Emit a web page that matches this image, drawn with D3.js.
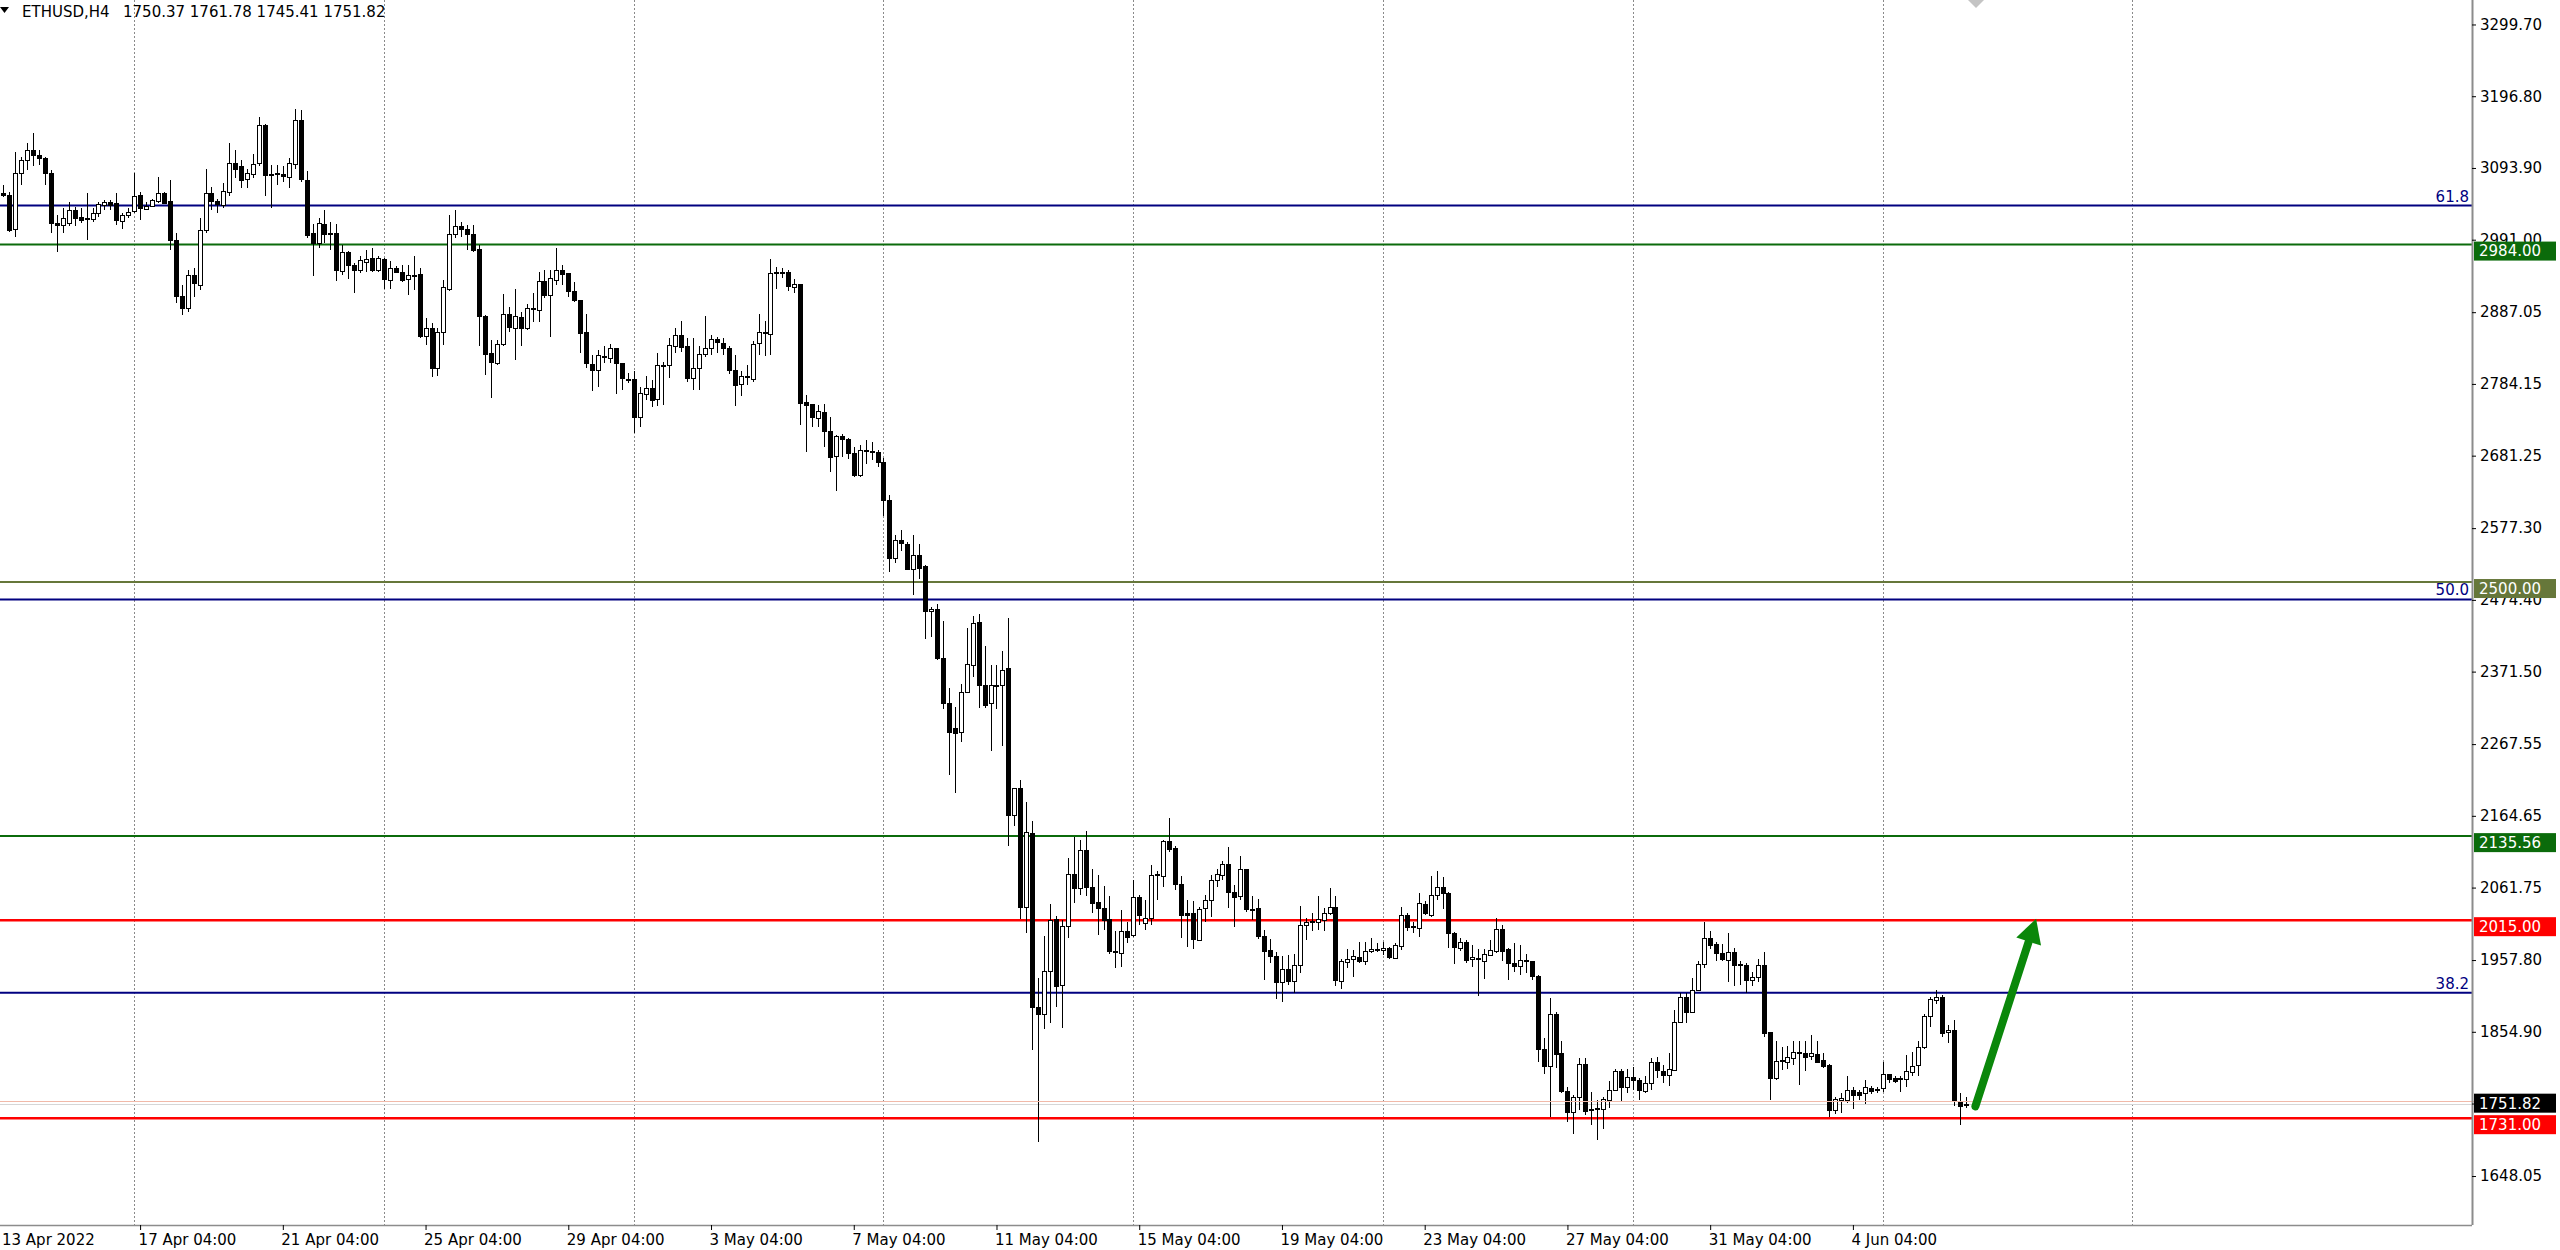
<!DOCTYPE html>
<html><head><meta charset="utf-8">
<script src="https://cdn.jsdelivr.net/npm/d3@7"></script>
<style>html,body{margin:0;padding:0;background:#fff;}svg{display:block;font-family:"DejaVu Sans",sans-serif;}</style>
</head><body><svg id="chart" width="2560" height="1250"></svg>
<script>
// ---------------- DATA ----------------
const symbol = "ETHUSD,H4";
const lastOHLC = [1750.37, 1761.78, 1745.41, 1751.82];
const startTime = Date.UTC(2022, 3, 13, 8); // first visible H4 bar
const barHours = 4;

const opens = [
3058,3055,3005,3086,3105,3119,3112,3108,3086,3015,
3012,3014,3033,3023,3021.6,3021,3029,3040,3045,3043,
3018,3026,3033,3055,3036,3039,3046,3058,3046,2990,
2910,2893,2940,2926,3005,3058,3046,3041,3060,3101,
3097,3077,3085,3100,3155,3085,3084,3085,3081,3100,
3162,3077,3000,2986,3014,3000,3000,2947,2973,2955,
2947,2960,2965,2948,2963,2934,2950,2945,2934,2940,
2942,2854,2865,2807,2858,2920,2999,3010,3006,2999,
2977,2881,2828,2814,2841,2884,2864,2880,2865,2892,
2891,2932,2912,2933,2948,2943,2917,2905,2858,2813,
2805,2824,2821,2835,2814,2791,2791,2736,2769,2779,
2762,2810,2812,2839,2855,2839,2793,2807,2826,2835,
2848,2843,2836,2804,2783,2794,2792,2842,2859,2856,
2944,2942,2944,2924,2928,2758,2755,2736,2744,2717,
2680,2709,2705,2685,2654,2689,2688,2686,2672,2618,
2535,2560,2555,2519,2539,2523,2459,2461,2391,2326,
2291,2285,2342,2381,2442,2352,2326,2352,2352,2376,
2165,2204,2034,2140,1890,1880,1942,2017,1922,2006,
2081,2061,2115,2062,2041,2033,2016,1971,1968,2000,
1994,2048,2011,2018,2080,2078,2129,2118,2067,2025,
2025,1987,2032,2044,2072,2080,2096,2056,2049,2088,
2031,2032,1992,1972,1964,1927,1945,1928,1950,2008,
2012,2012,2015,2025,2034,1929,1956,1959,1962,1957,
1971,1974,1972,1975,1962,1979,2023,2007,2003,2038,
2022,2050,2063,2054,1996,1976,1984,1959,1961,1956,
1965,1971,2002,1973,1954,1949,1958,1956,1935,1830,
1806,1880,1824,1770,1740,1761,1809,1742,1743,1744,
1758,1772,1799,1776,1790,1786,1771,1781,1811,1799,
1793,1800,1869,1905,1884,1915,1952,1989,1981,1968,
1959,1970,1952,1951,1930,1934,1951,1854,1788,1812,
1812,1818,1826,1825,1820,1823,1814,1807,1742,1757,
1756,1771,1768,1767,1775,1773,1774,1794,1789,1786,
1787,1797,1807,1833,1877,1901,1905,1854,1857,1755,
1750.37];

const highs = [
3069,3060,3117,3110,3129,3144,3120,3110,3091,3026,
3036,3045,3038,3036,3058,3036,3045,3048,3048,3058,
3029,3036,3086,3060,3045,3050,3081,3060,3077,3000,
2926,2948,2950,3022,3093,3067,3050,3072,3130,3120,
3105,3092,3114,3167,3157,3098,3098,3096,3108,3178,
3177,3089,3014,3022,3033,3017,3014,2983,2975,2958,
2968,2976,2979,2967,2965,2960,2953,2955,2955,2967,
2950,2878,2871,2865,2933,3026,3034,3017,3012,3012,
2983,2883,2847,2847,2913,2895,2920,2887,2899,2915,
2945,2948,2948,2979,2955,2943,2931,2905,2885,2826,
2833,2838,2841,2835,2814,2800,2802,2780,2795,2790,
2828,2815,2850,2864,2875,2850,2850,2838,2881,2854,
2852,2850,2838,2826,2802,2811,2845,2885,2874,2964,
2952,2950,2948,2934,2928,2768,2756,2754,2756,2737,
2711,2713,2706,2694,2697,2704,2701,2689,2678,2625,
2568,2575,2558,2568,2555,2525,2464,2468,2444,2348,
2321,2354,2434,2451,2454,2408,2381,2381,2401,2448,
2204,2216,2184,2157,1932,1992,2038,2021,2015,2104,
2135,2130,2143,2089,2080,2064,2049,1999,2030,2013,
2073,2051,2044,2094,2086,2130,2161,2121,2078,2044,
2042,2034,2051,2080,2089,2100,2120,2066,2107,2089,
2049,2046,2001,1988,1970,1963,1965,1967,2035,2018,
2025,2049,2032,2061,2049,1959,1973,1972,1984,1984,
1989,1982,1984,1977,1982,2034,2025,2013,2054,2042,
2078,2086,2077,2056,1998,1989,1987,1979,1973,1973,
1987,2018,2008,1975,1982,1979,1967,1957,1936,1846,
1903,1884,1841,1776,1764,1818,1817,1768,1757,1762,
1785,1801,1801,1801,1805,1788,1791,1817,1819,1807,
1824,1886,1910,1910,1932,1956,2013,2000,1984,1981,
1996,1975,1956,1954,1941,1960,1970,1854,1841,1833,
1834,1841,1841,1841,1850,1841,1825,1809,1761,1767,
1792,1776,1771,1786,1777,1776,1812,1795,1791,1791,
1822,1826,1841,1880,1905,1915,1908,1865,1872,1767,
1761.78];

const lows = [
3052,3002,2995,3069,3091,3096,3098,3069,3000,2974,
3000,3010,3010,3015,2991,3017,3024,3034,3034,3012,
3007,3022,3029,3019,3034,3038,3043,3043,2976,2900,
2883,2888,2909,2919,3000,3034,3029,3036,3053,3079,
3065,3065,3079,3096,3053,3036,3069,3074,3065,3093,
3074,2993,2939,2979,2986,2976,2932,2940,2934,2915,
2943,2945,2945,2944,2920,2920,2943,2931,2912,2919,
2850,2840,2794,2795,2840,2917,2993,2995,2976,2974,
2838,2797,2764,2811,2838,2859,2819,2839,2862,2873,
2873,2907,2852,2926,2926,2909,2902,2829,2807,2774,
2780,2814,2814,2770,2775,2786,2714,2723,2761,2751,
2752,2754,2792,2828,2830,2787,2776,2776,2823,2826,
2828,2826,2799,2753,2767,2783,2787,2826,2824,2826,
2920,2936,2917,2914,2725,2686,2723,2723,2693,2658,
2631,2679,2677,2651,2651,2669,2675,2665,2595,2514,
2528,2545,2518,2481,2504,2419,2421,2388,2318,2223,
2197,2271,2341,2364,2319,2319,2257,2318,2265,2121,
2150,2017,1997,1829,1697,1859,1868,1891,1861,1990,
2040,2051,2049,2025,1994,2001,1966,1946,1948,1982,
1991,2008,2001,2008,2044,2063,2113,2058,1989,1977,
1973,1986,2013,2020,2063,2073,2032,2005,2044,2027,
2015,1988,1929,1953,1902,1898,1922,1910,1939,1987,
1999,2001,1999,2022,1920,1917,1946,1934,1953,1951,
1968,1970,1965,1960,1960,1972,2000,1997,1991,2022,
2020,2044,2031,1975,1952,1971,1953,1948,1906,1930,
1965,1968,1956,1929,1940,1936,1939,1929,1812,1795,
1732,1803,1767,1726,1708,1743,1736,1721,1700,1716,
1745,1771,1756,1767,1771,1757,1767,1771,1788,1781,
1777,1800,1868,1868,1882,1914,1946,1973,1956,1956,
1927,1921,1922,1910,1920,1927,1848,1757,1786,1800,
1801,1807,1779,1798,1814,1810,1803,1732,1737,1738,
1753,1744,1757,1752,1765,1767,1769,1781,1781,1769,
1776,1791,1791,1830,1862,1895,1847,1839,1748,1721,
1745.41];

const closes = [
3055,3005,3086,3105,3119,3112,3108,3086,3015,3012,
3022,3033,3022,3019,3021,3029,3042,3045,3041,3018,
3026,3031,3054,3036,3040,3048,3058,3044,2990,2910,
2893,2940,2928,3005,3058,3046,3042,3061,3101,3093,
3077,3086,3100,3155,3084,3084,3086,3082,3101,3163,
3077,2998,2986,3015,3000,2999,2947,2974,2955,2948,
2962,2964,2948,2965,2934,2951,2944,2933,2940,2939.5,
2853,2865,2807,2858,2923,2999,3010,3005,2999,2976,
2881,2827,2815,2841,2884,2865,2881,2864,2893,2893.5,
2932,2912,2936,2948,2942,2917,2904,2858,2813,2804,
2826,2822,2835,2814,2792,2789,2736,2771,2778,2762,
2811,2812,2840,2855,2838,2793,2807,2827,2835,2848,
2843,2836,2804,2783,2795,2796,2842,2858,2857,2943,
2942,2944,2924,2928,2758,2753,2736,2746,2717,2679,
2709,2704,2685,2654,2690,2687,2686,2671,2617,2535,
2561,2555,2519,2539,2521,2458,2462,2391,2326,2285,
2284,2342,2382,2441,2352,2324,2352,2353,2374,2165,
2204,2034,2142,1890,1880,1942,2015,1921,2007,2081,
2061,2116,2062,2039,2032,2016,1970,1969,2000,1992,
2048,2022,2018,2080,2081,2128,2118,2067,2023,2022,
1988,2031,2044,2072,2081,2096,2056,2049,2088,2030,
2029,1992,1971,1963,1927,1945,1928,1951,2008,2013,
2014,2017,2025,2034,1929,1957,1960,1963,1956,1971,
1974,1973,1975,1962,1980,2023,2006,2005,2039,2025,
2051,2062,2054,1996,1976,1984,1958,1962,1959,1966,
1972,2002,1971,1953,1949,1958,1956,1934,1830,1806,
1880,1823,1769,1740,1761,1809,1742,1744,1745,1759,
1772,1799,1776,1790,1786,1771,1782,1811,1799,1793,
1801,1869,1905,1884,1915,1952,1990,1979,1968,1959,
1970,1951,1950,1930,1934,1951,1854,1788,1813,1814,
1819,1826,1824,1819,1824,1812,1806,1742,1758,1760,
1771,1764,1764,1776,1770,1771,1794,1787,1785,1788,
1798,1806,1833,1877,1902,1905,1854,1857,1755,1748,
1751.82];

const yTickValues = [3299.70,3196.80,3093.90,2991.00,2887.05,2784.15,2681.25,2577.30,2474.40,2371.50,2267.55,2164.65,2061.75,1957.80,1854.90,1752.00,1648.05];
const firstDateLabel = "13 Apr 2022";
const xTickLabels = ["17 Apr 04:00","21 Apr 04:00","25 Apr 04:00","29 Apr 04:00","3 May 04:00","7 May 04:00","11 May 04:00","15 May 04:00","19 May 04:00","23 May 04:00","27 May 04:00","31 May 04:00","4 Jun 04:00"];

const fibPrices = [3040, 2475, 1911];
const fibNames = ["61.8", "50.0", "38.2"];
const levelPrices = [2984.00, 2500.00, 2135.56, 2015.00, 1731.00];
const bidPrice = 1751.82;
const askPrice = 1755.5;
// arrow annotation in data space: [bar index, price]
const arrowFrom = [331.6, 1748];
const arrowTo = [341.8, 2017];
const shiftMarkerBar = 331.7;
const lastSeparatorBar = 390; // separators drawn up to this bar

// ---------------- STYLE ----------------
const levelColors = ["#0b6b0b", "#66773a", "#0b6b0b", "#ff0000", "#ff0000"];
const levelWidths = [2, 2, 2, 2.5, 2.5];
const fibColor = "#000080";
const W = 2560, plotRight = 2472, plotBottom = 1225;
const fontSize = 15;

// ---------------- SCALES ----------------
const nVisible = 415.1;
const x = d3.scaleLinear().domain([-0.555, nVisible]).range([0, plotRight]);
const y = d3.scaleLinear().domain([1577.8, 3334.8]).range([plotBottom, 0]);

const months = ["Jan","Feb","Mar","Apr","May","Jun","Jul","Aug","Sep","Oct","Nov","Dec"];
const pad = n => String(n).padStart(2, "0");
const barTime = i => new Date(startTime + i * barHours * 3600e3);
const fmtBar = i => { const d = barTime(i); return d.getUTCDate() + " " + months[d.getUTCMonth()] + " " + pad(d.getUTCHours()) + ":" + pad(d.getUTCMinutes()); };

const svg = d3.select("#chart");
svg.append("rect").attr("width", W).attr("height", 1250).attr("fill", "#fff");

svg.append("defs").append("clipPath").attr("id", "plotclip")
  .append("rect").attr("x", 0).attr("y", 0).attr("width", plotRight).attr("height", plotBottom);

const plot = svg.append("g").attr("clip-path", "url(#plotclip)");

// weekly separators
const sepBars = d3.range(0, lastSeparatorBar).filter(i => { const d = barTime(i); return d.getUTCDay() === 0 && d.getUTCHours() === 0; });
plot.append("g").selectAll("line").data(sepBars).join("line")
  .attr("x1", i => Math.round(x(i)) + 0.5).attr("x2", i => Math.round(x(i)) + 0.5)
  .attr("y1", 0).attr("y2", plotBottom)
  .attr("stroke", "#8a8a8a").attr("stroke-width", 1).attr("stroke-dasharray", "2,2");

// level lines
plot.append("g").selectAll("line").data(levelPrices).join("line")
  .attr("x1", 0).attr("x2", plotRight)
  .attr("y1", d => y(d)).attr("y2", d => y(d))
  .attr("stroke", (d, i) => levelColors[i]).attr("stroke-width", (d, i) => levelWidths[i]);

plot.append("g").selectAll("line").data(fibPrices).join("line")
  .attr("x1", 0).attr("x2", plotRight)
  .attr("y1", d => y(d)).attr("y2", d => y(d))
  .attr("stroke", fibColor).attr("stroke-width", 2);

// bid / ask lines
svg.append("line").attr("x1", 0).attr("x2", 2556).attr("y1", Math.round(y(askPrice)) + 0.5).attr("y2", Math.round(y(askPrice)) + 0.5)
  .attr("stroke", "#f1b9a9").attr("stroke-width", 1);
plot.append("line").attr("x1", 0).attr("x2", plotRight).attr("y1", Math.round(y(bidPrice)) + 0.5).attr("y2", Math.round(y(bidPrice)) + 0.5)
  .attr("stroke", "#d6d6d6").attr("stroke-width", 1);

// candles
const idx = d3.range(opens.length);
const cg = plot.append("g").attr("shape-rendering", "crispEdges");
cg.selectAll("line").data(idx).join("line")
  .attr("x1", i => Math.round(x(i)) + 0.5).attr("x2", i => Math.round(x(i)) + 0.5)
  .attr("y1", i => y(Math.max(highs[i], opens[i], closes[i])))
  .attr("y2", i => y(Math.min(lows[i], opens[i], closes[i])))
  .attr("stroke", "#000").attr("stroke-width", 1);
cg.selectAll("rect").data(idx).join("rect")
  .attr("x", i => Math.round(x(i)) - 1.5)
  .attr("width", 4)
  .attr("y", i => Math.round(y(Math.max(opens[i], closes[i]))) + 0.5)
  .attr("height", i => Math.max(1, Math.round(Math.abs(y(opens[i]) - y(closes[i])))))
  .attr("fill", i => closes[i] >= opens[i] ? "#fff" : "#000")
  .attr("stroke", "#000").attr("stroke-width", 1);

// fib labels
svg.append("g").selectAll("text").data(fibPrices).join("text")
  .attr("x", plotRight - 3).attr("y", d => y(d) - 4)
  .attr("text-anchor", "end").attr("font-size", fontSize).attr("fill", fibColor)
  .text((d, i) => fibNames[i]);

// arrow annotation
const ax0 = x(arrowFrom[0]), ay0 = y(arrowFrom[1]);
const ax1 = x(arrowTo[0]), ay1 = y(arrowTo[1]);
const len = Math.hypot(ax1 - ax0, ay1 - ay0);
const ux = (ax1 - ax0) / len, uy = (ay1 - ay0) / len;
const headL = 24, headW = 13;
const bx = ax1 - ux * headL, by = ay1 - uy * headL;
svg.append("line").attr("x1", ax0).attr("y1", ay0).attr("x2", bx + ux * 2).attr("y2", by + uy * 2)
  .attr("stroke", "#0a870a").attr("stroke-width", 8).attr("stroke-linecap", "round");
svg.append("polygon")
  .attr("points", [[ax1, ay1], [bx - uy * headW, by + ux * headW], [bx + uy * headW, by - ux * headW]].map(p => p.join(",")).join(" "))
  .attr("fill", "#0a870a");

// shift marker
const sm = x(shiftMarkerBar);
svg.append("polygon").attr("points", `${sm - 8},0 ${sm + 8},0 ${sm},8`).attr("fill", "#c4c4c4");

// axes
const yAxis = d3.axisRight(y).tickValues(yTickValues).tickFormat(d => d.toFixed(2)).tickSize(4).tickSizeOuter(0).tickPadding(4);
const yg = svg.append("g").attr("transform", `translate(${plotRight},0)`).call(yAxis);
yg.select(".domain").attr("stroke", "#8c8c8c").attr("stroke-width", 2).attr("d", `M0.5,0V${plotBottom}`);
yg.selectAll(".tick line").attr("stroke", "#000");
yg.selectAll("text").attr("font-size", fontSize).attr("font-family", "DejaVu Sans").attr("fill", "#000");

const tickBars = xTickLabels.map(lbl => idx.find(i => fmtBar(i) === lbl));
const xAxis = d3.axisBottom(x).tickValues(tickBars).tickFormat((d, i) => xTickLabels[i]).tickSize(5).tickSizeOuter(0).tickPadding(4);
const xg = svg.append("g").attr("transform", `translate(0,${plotBottom})`).call(xAxis);
xg.select(".domain").attr("stroke", "#8c8c8c").attr("stroke-width", 1.5).attr("d", `M0,0.5H${plotRight}`);
xg.selectAll(".tick line").attr("stroke", "#000");
xg.selectAll("text").attr("font-size", fontSize).attr("font-family", "DejaVu Sans").attr("fill", "#000").attr("text-anchor", "start").attr("x", -2);
svg.append("text").attr("x", 2).attr("y", plotBottom + 9).attr("dy", "0.71em")
  .attr("font-size", fontSize).attr("fill", "#000").text(firstDateLabel);

// price label boxes (level labels sit just below their line; bid label is centred)
const boxes = levelPrices.map((p, i) => ({ p, c: levelColors[i], off: -3 })).concat([{ p: bidPrice, c: "#000", off: -10 }]);
const bg = svg.append("g");
bg.selectAll("rect").data(boxes).join("rect")
  .attr("x", plotRight + 2).attr("width", 82).attr("y", d => y(d.p) + d.off).attr("height", 19).attr("fill", d => d.c);
bg.selectAll("text").data(boxes).join("text")
  .attr("x", plotRight + 7).attr("y", d => y(d.p) + d.off + 9.5).attr("dy", "0.36em")
  .attr("font-size", fontSize).attr("fill", "#fff").text(d => d.p.toFixed(2));

// title
svg.append("polygon").attr("points", "0,7 9,7 4.5,13").attr("fill", "#000");
svg.append("text").attr("x", 22).attr("y", 17).attr("font-size", fontSize).attr("fill", "#000").text(symbol);
svg.append("text").attr("x", 123).attr("y", 17).attr("font-size", fontSize).attr("fill", "#000").text(lastOHLC.map(v => v.toFixed(2)).join(" "));
</script></body></html>
